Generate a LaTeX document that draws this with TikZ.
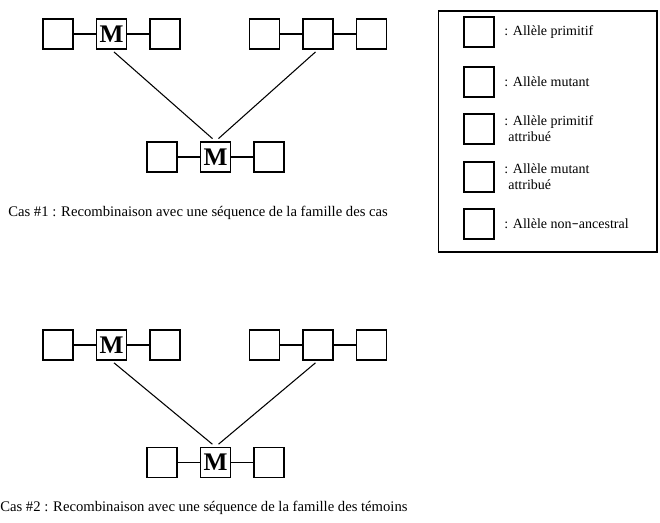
\documentclass[tikz,border=0pt]{standalone}
\usepackage{fontspec}
\setmainfont{Liberation Serif}
\usetikzlibrary{positioning}

\begin{document}
\begin{tikzpicture}[
    x=0.75pt, y=-0.75pt,
    node distance=16.5pt,
    allele/.style={
      rectangle, draw, line width=1.1pt, fill=white,
      minimum size=22.5pt, inner sep=0pt,
      font=\fontsize{19}{19}\selectfont\bfseries
    },
    link/.style={line width=0.8pt},
    vline/.style={line width=0.8pt, shorten <=2.5pt, shorten >=3pt},
    caption/.style={font=\fontsize{11}{13}\selectfont, anchor=west, inner sep=0pt},
    lgtext/.style={font=\fontsize{10.5}{12}\selectfont, align=left, anchor=west, inner sep=0pt},
  ]
  \useasboundingbox (0,0) rectangle (660,523);

  % Cas 1 : sequences parentes
  \node[allele] (a1) at (58,34) {};
  \node[allele, right=of a1] (a2) {M};
  \node[allele, right=of a2] (a3) {};
  \node[allele] (b1) at (264.5,34) {};
  \node[allele, right=of b1] (b2) {};
  \node[allele, right=of b2] (b3) {};
  \draw[link] (a1) -- (a2) -- (a3);
  \draw[link] (b1) -- (b2) -- (b3);

  % Cas 1 : sequence recombinante
  \node[allele] (c1) at (162,157) {};
  \node[allele, right=of c1] (c2) {M};
  \node[allele, right=of c2] (c3) {};
  \draw[link] (c1) -- (c2) -- (c3);
  \draw[vline] (a2.south) -- (c2.north);
  \draw[vline] (b2.south) -- (c2.north);

  \node[caption] (cap1) at (8,213) {Cas \#1 : Recombinaison avec une séquence de la famille des cas};

  % Cas 2 : sequences parentes
  \node[allele] (d1) at (58,345) {};
  \node[allele, right=of d1] (d2) {M};
  \node[allele, right=of d2] (d3) {};
  \node[allele] (e1) at (264.5,345) {};
  \node[allele, right=of e1] (e2) {};
  \node[allele, right=of e2] (e3) {};
  \draw[link] (d1) -- (d2) -- (d3);
  \draw[link] (e1) -- (e2) -- (e3);

  % Cas 2 : sequence recombinante
  \node[allele] (f1) at (162,462.5) {};
  \node[allele, right=of f1] (f2) {M};
  \node[allele, right=of f2] (f3) {};
  \draw[link] (f1) -- (f2) -- (f3);
  \draw[vline] (d2.south) -- (f2.north);
  \draw[vline] (e2.south) -- (f2.north);

  \node[caption] (cap2) at (0,508) {Cas \#2 : Recombinaison avec une séquence de la famille des témoins};

  % Legende
  \node[draw, line width=1pt, minimum width=164pt, minimum height=180.75pt, inner sep=0pt]
    (legend) at (547.5,131.5) {};
  \node[allele] (l1) at (479,32) {};
  \node[allele] (l2) at (479,82) {};
  \node[allele] (l3) at (479,129) {};
  \node[allele] (l4) at (479,177) {};
  \node[allele] (l5) at (479,224) {};
  \node[lgtext, right=7pt of l1] (t1) {: Allèle primitif};
  \node[lgtext, right=7pt of l2] (t2) {: Allèle mutant};
  \node[lgtext, right=7pt of l3] (t3) {: Allèle primitif\\\hspace{3pt}attribué};
  \node[lgtext, right=7pt of l4] (t4) {: Allèle mutant\\\hspace{3pt}attribué};
  \node[lgtext, right=7pt of l5] (t5) {: Allèle non\texttt{-}ancestral};

\end{tikzpicture}
\end{document}
